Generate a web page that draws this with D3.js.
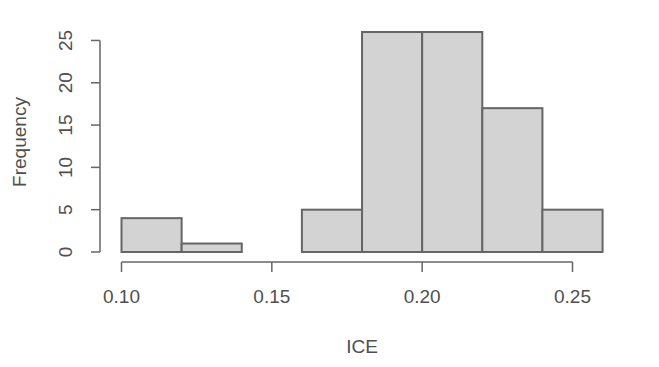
<!DOCTYPE html>
<html><head><meta charset="utf-8">
<script src="https://cdn.jsdelivr.net/npm/d3@7"></script>
<style>body{margin:0;background:#fff}svg{display:block}text{font-family:"Liberation Sans",Arial,sans-serif;fill:#505050}</style>
</head><body><svg id="c" width="659" height="367"></svg>
<script>
const binStarts = [0.10,0.12,0.14,0.16,0.18,0.20,0.22,0.24];
const binWidth = 0.02;
const counts = [4,1,0,5,26,26,17,5];
const xTicks = [0.10,0.15,0.20,0.25];
const yTicks = [0,5,10,15,20,25];

const svg = d3.select("#c");
const x = d3.scaleLinear().domain([0.10,0.25]).range([121.5,572.5]);
const y = d3.scaleLinear().domain([0,26]).range([252,32]);

svg.append("rect").attr("width",659).attr("height",367).attr("fill","#fff");

svg.selectAll("rect.bar").data(counts).enter().append("rect")
  .attr("class","bar")
  .attr("x",(d,i)=>x(binStarts[i]))
  .attr("width",(d,i)=>x(binStarts[i]+binWidth)-x(binStarts[i]))
  .attr("y",d=>y(d))
  .attr("height",d=>y(0)-y(d))
  .attr("fill","#d3d3d3").attr("stroke","#666").attr("stroke-width",2);

// x axis
const gx = svg.append("g").attr("transform","translate(0,262)");
gx.append("line").attr("x1",x(0.10)).attr("x2",x(0.25)).attr("stroke","#666").attr("stroke-width",1.5);
gx.selectAll("line.t").data(xTicks).enter().append("line").attr("class","t")
  .attr("x1",d=>x(d)).attr("x2",d=>x(d)).attr("y1",0).attr("y2",10).attr("stroke","#666").attr("stroke-width",1.5);
gx.selectAll("text").data(xTicks).enter().append("text")
  .attr("x",d=>x(d)).attr("y",41).attr("text-anchor","middle").attr("font-size",19)
  .text(d=>d.toFixed(2));

// y axis
const gy = svg.append("g").attr("transform","translate(100,0)");
gy.append("line").attr("y1",y(0)).attr("y2",y(25)).attr("stroke","#666").attr("stroke-width",1.5);
gy.selectAll("line.t").data(yTicks).enter().append("line").attr("class","t")
  .attr("y1",d=>y(d)).attr("y2",d=>y(d)).attr("x1",0).attr("x2",-9).attr("stroke","#666").attr("stroke-width",1.5);
gy.selectAll("text").data(yTicks).enter().append("text")
  .attr("transform",d=>`translate(-28,${y(d)}) rotate(-90)`)
  .attr("text-anchor","middle").attr("font-size",19)
  .text(d=>d);

svg.append("text").attr("x",362).attr("y",353).attr("text-anchor","middle").attr("font-size",19).text("ICE");
svg.append("text").attr("transform","translate(26,142) rotate(-90)").attr("text-anchor","middle").attr("font-size",19).text("Frequency");
</script></body></html>
